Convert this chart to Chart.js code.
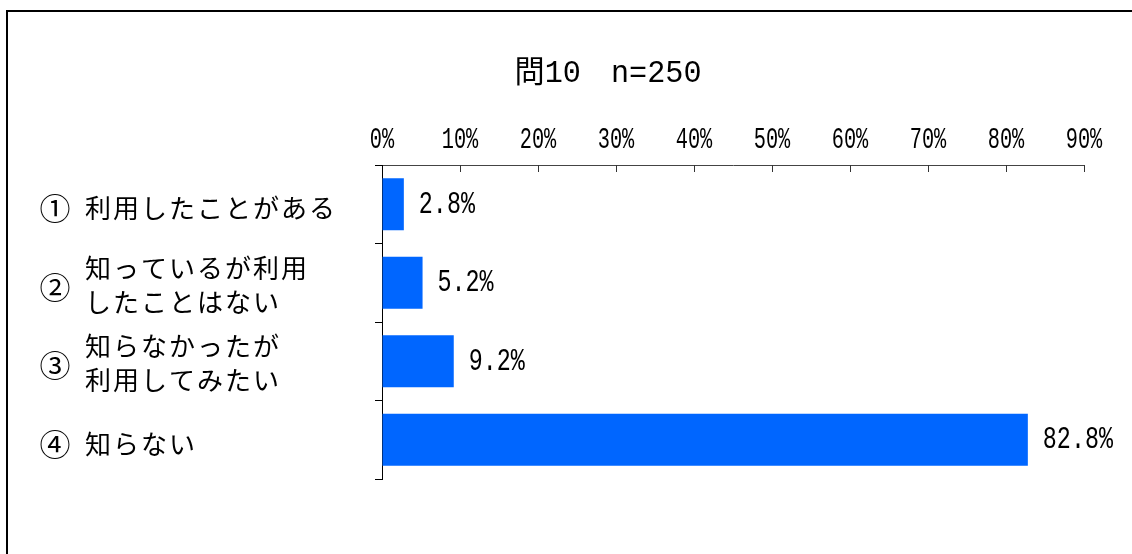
<!DOCTYPE html>
<html>
<head>
<meta charset="utf-8">
<script src="https://cdn.jsdelivr.net/npm/chart.js@4.4.1/dist/chart.umd.min.js"></script>
<style>
html, body { margin: 0; padding: 0; background: #fff; }
</style>
</head>
<body>
<canvas id="mycanvas" width="1132" height="554"></canvas>
<script>
var chartTitle = '問10　n=250';
var marks = ['①', '②', '③', '④'];
var labels = [
	['利用したことがある'],
	['知っているが利用', 'したことはない'],
	['知らなかったが', '利用してみたい'],
	['知らない']
];
var values = [2.8, 5.2, 9.2, 82.8];
var xMax = 90;
var xStep = 10;

var jpFont = '"Noto Sans CJK JP", sans-serif';
var numFont = '"Liberation Mono", "Noto Sans CJK JP", monospace';

// text squeezed horizontally, to get the tall narrow digits
function narrowText(ctx, text, x, y, font, sx, align) {
	ctx.save();
	ctx.font = font;
	ctx.textAlign = align;
	ctx.textBaseline = 'middle';
	ctx.fillStyle = '#000';
	ctx.translate(x, y);
	ctx.scale(sx, 1);
	ctx.fillText(text, 0, 0);
	ctx.restore();
}

var extras = {
	id: 'extras',
	beforeDraw: function(chart) {
		var ctx = chart.ctx;
		ctx.save();
		ctx.fillStyle = '#fff';
		ctx.fillRect(0, 0, chart.width, chart.height);
		ctx.strokeStyle = '#000';
		ctx.lineWidth = 2;
		ctx.strokeRect(7, 11, 2000, 2000);
		ctx.restore();
	},
	afterDraw: function(chart) {
		var ctx = chart.ctx;
		var xs = chart.scales.x;
		var ys = chart.scales.y;
		var area = chart.chartArea;

		// title
		ctx.save();
		ctx.font = '31px ' + numFont;
		var w = ctx.measureText(chartTitle).width;
		ctx.restore();
		narrowText(ctx, chartTitle, 608, 74, '31px ' + numFont, 187 / w, 'center');

		// x tick labels + inward tick marks
		ctx.save();
		ctx.strokeStyle = '#333';
		ctx.lineWidth = 1;
		xs.ticks.forEach(function(t, i) {
			var px = xs.getPixelForTick(i);
			narrowText(ctx, t.value + '%', px, 140, '29px ' + numFont, 0.7, 'center');
			if (i > 0) {
				ctx.beginPath();
				ctx.moveTo(Math.round(px) + 0.5, area.top);
				ctx.lineTo(Math.round(px) + 0.5, area.top + 7);
				ctx.stroke();
			}
		});
		ctx.restore();

		// category labels
		for (var i = 0; i < labels.length; i++) {
			var cy = ys.getPixelForValue(i);
			ctx.save();
			ctx.fillStyle = '#000';
			ctx.textBaseline = 'middle';
			ctx.font = '31px ' + jpFont;
			ctx.textAlign = 'center';
			ctx.fillText(marks[i], 55, cy + 4);
			ctx.textAlign = 'left';
			ctx.font = '26px ' + jpFont;
			ctx.letterSpacing = '2px';
			if (labels[i].length == 1) {
				ctx.fillText(labels[i][0], 85, cy + 4);
			} else {
				ctx.fillText(labels[i][0], 85, cy - 15);
				ctx.fillText(labels[i][1], 85, cy + 19);
			}
			ctx.restore();
		}

		// value labels
		var meta = chart.getDatasetMeta(0);
		meta.data.forEach(function(bar, i) {
			narrowText(ctx, values[i].toFixed(1) + '%', bar.x + 15, bar.y, '32px ' + numFont, 0.73, 'left');
		});
	}
};

var chartdata = {
	labels: marks,
	datasets: [{
		data: values,
		backgroundColor: '#0066ff',
		borderWidth: 0,
		barPercentage: 0.66,
		categoryPercentage: 1
	}]
};

var ctx = document.getElementById('mycanvas');
var barGraph = new Chart(ctx, {
	type: 'bar',
	data: chartdata,
	plugins: [extras],
	options: {
		indexAxis: 'y',
		responsive: false,
		animation: false,
		layout: {
			padding: { left: 375, right: 48, top: 165, bottom: 75 }
		},
		plugins: {
			legend: { display: false },
			tooltip: { enabled: false },
			title: { display: false }
		},
		scales: {
			x: {
				position: 'top',
				min: 0,
				max: xMax,
				ticks: { display: false, stepSize: xStep },
				grid: { drawOnChartArea: false, drawTicks: false, color: '#333' },
				border: { color: '#444', width: 1 }
			},
			y: {
				ticks: { display: false },
				grid: { drawOnChartArea: false, drawTicks: true, tickLength: 7, offset: true, color: '#000' },
				border: { color: '#000', width: 1 }
			}
		}
	}
});
</script>
</body>
</html>
